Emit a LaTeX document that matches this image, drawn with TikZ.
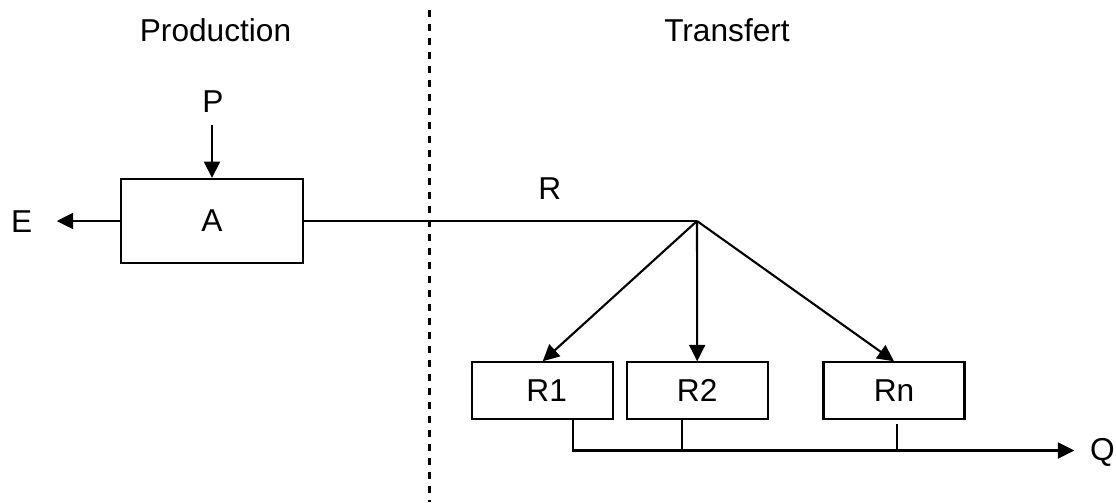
\documentclass[tikz,border=0pt]{standalone}
\usepackage{fontspec}
\setmainfont{Liberation Sans}
\usetikzlibrary{arrows.meta}

\tikzset{box/.style={draw, line width=1.5pt, inner sep=0pt}, rbox/.style={box, minimum width=3.525cm, minimum height=1.41cm}, arr/.style={-{Triangle[length=0.41cm,width=0.4cm]}}}

\begin{document}
\begin{tikzpicture}[x=0.025cm, y=-0.025cm, line width=1.5pt, font=\fontsize{22.5}{27}\selectfont]
\useasboundingbox (0,0) rectangle (1116,502);

\node (prod) at (215.5,30) {Production}; \node (trans) at (727,30) {Transfert};
\coordinate (sep1) at (429.5,10); \coordinate (sep2) at (429.5,502);
\draw[dash pattern=on 0.18cm off 0.17cm] (sep1) -- (sep2);

\node[box, minimum width=4.57cm, minimum height=2.1cm] (A) at (212,221) {A};
\node (P) at (213,102) {P}; \node (E) at (21.7,222) {E};
\coordinate (pin) at (212,125); \coordinate (eout) at (56.7,221);
\draw[arr] (pin) -- (A.north); \draw[arr] (A.west) -- (eout);

\coordinate (split) at (697,221); \node (R) at (549.7,189) {R};
\draw (A.east) -- (split);

\node[rbox] (R1) at (542.7,390.5) {\hspace{0.2cm}R1};
\node[rbox] (R2) at (697.2,390.5) {\raisebox{-0.05cm}{R2}};
\node[rbox] (Rn) at (894,390.5) {Rn\hspace{0.25cm}};

\draw[arr] (split) -- (R1.north); \draw[arr] (split) -- (R2.north); \draw[arr] (split) -- (Rn.north);

\coordinate (qend) at (1074.3,450.5); \node[inner sep=0pt] (Q) at (1102.5,452) {Q};
\coordinate (r1out) at ([xshift=0.75cm]R1.south); \coordinate (r2out) at ([xshift=-0.38cm]R2.south); \coordinate (rnout) at ([xshift=0.07cm,yshift=-0.115cm]Rn.south);
\draw[arr] (r1out) |- (qend);
\draw (r2out) -- (r2out |- qend); \draw (rnout) -- (rnout |- qend);
\end{tikzpicture}
\end{document}
